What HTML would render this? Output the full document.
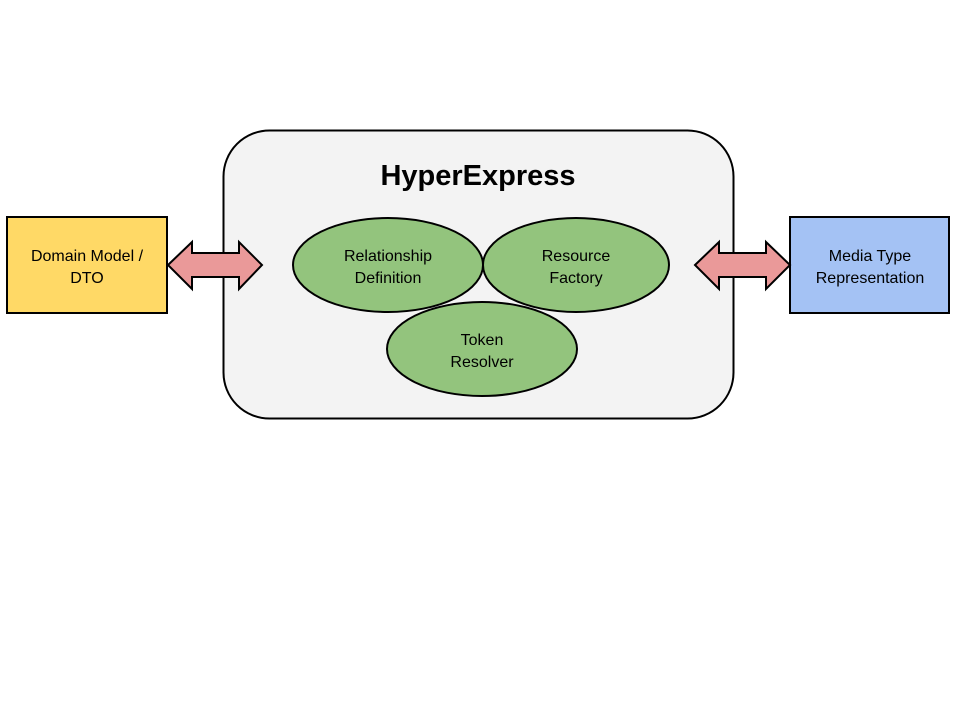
<!DOCTYPE html>
<html><head><style>body{margin:0;background:#fff}</style></head><body>
<svg width="960" height="720" xmlns="http://www.w3.org/2000/svg" font-family="Liberation Sans, Arial, sans-serif">
<rect x="223.5" y="130.5" width="510" height="288" rx="46" fill="#f3f3f3" stroke="#000" stroke-width="2"/>
<text x="478" y="185" font-size="29" font-weight="bold" text-anchor="middle">HyperExpress</text>
<rect x="7" y="217" width="160" height="96" fill="#ffd966" stroke="#000" stroke-width="2"/>
<text x="87" y="261" font-size="16" text-anchor="middle">Domain Model /</text>
<text x="87" y="283" font-size="16" text-anchor="middle">DTO</text>
<rect x="790" y="217" width="159" height="96" fill="#a4c2f4" stroke="#000" stroke-width="2"/>
<text x="870" y="261" font-size="16" text-anchor="middle">Media Type</text>
<text x="870" y="283" font-size="16" text-anchor="middle">Representation</text>
<polygon points="168,265 192,242 192,253 239,253 239,242 262,265 239,289 239,277 192,277 192,289" fill="#ea9999" stroke="#000" stroke-width="2"/>
<polygon points="695,265 719,242 719,253 766,253 766,242 790,265 766,289 766,277 719,277 719,289" fill="#ea9999" stroke="#000" stroke-width="2"/>
<ellipse cx="388" cy="265" rx="95" ry="47" fill="#93c47d" stroke="#000" stroke-width="2"/>
<ellipse cx="576" cy="265" rx="93" ry="47" fill="#93c47d" stroke="#000" stroke-width="2"/>
<ellipse cx="482" cy="349" rx="95" ry="47" fill="#93c47d" stroke="#000" stroke-width="2"/>
<g font-size="16" text-anchor="middle">
<text x="388" y="261">Relationship</text><text x="388" y="283">Definition</text>
<text x="576" y="261">Resource</text><text x="576" y="283">Factory</text>
<text x="482" y="345">Token</text><text x="482" y="367">Resolver</text>
</g>
</svg>
</body></html>
